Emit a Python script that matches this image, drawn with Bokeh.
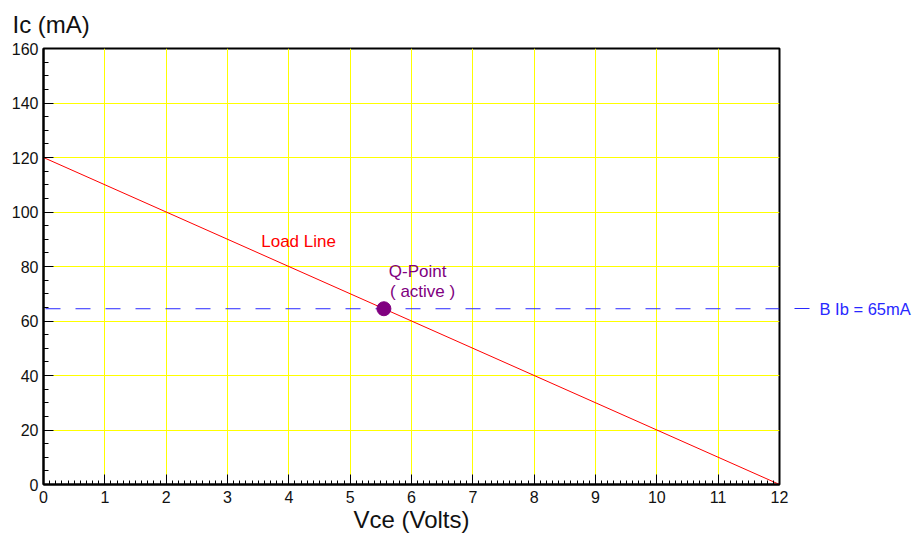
from bokeh.plotting import figure
from bokeh.models import Range1d, SingleIntervalTicker, FixedTicker, Label, LinearAxis
from bokeh.embed import file_html
from bokeh.resources import INLINE

# ---- data ----
load_vce = [0, 12]          # Volts
load_ic = [120, 0]          # mA
q_vce = [5.55]
q_ic = [64.5]
ib_vce = [0, 12]
ib_ic = [64.5, 64.5]        # mA (dashed "B Ib = 65mA" line)
ib_text = "B Ib = 65mA"
x_min, x_max = 0, 12
y_min, y_max = 0, 160

FONT = "Liberation Sans"
BLUE = "#2828ff"
PURPLE = "#800080"

p = figure(width=913, height=538, output_backend="svg", toolbar_location=None,
           x_range=Range1d(x_min, x_max), y_range=Range1d(y_min, y_max),
           min_border_left=43, min_border_top=48, min_border_right=133, min_border_bottom=54,
           title="Ic (mA)")
p.background_fill_color = "white"
p.border_fill_color = "white"
p.outline_line_color = "black"
p.outline_line_width = 2

p.title.text_font = FONT
p.title.text_font_size = "24px"
p.title.text_font_style = "normal"
p.title.text_color = "#111111"
p.title.align = "left"
p.title.offset = -31
p.title.standoff = 18
p.title.vertical_align = "top"

p.xaxis.ticker = SingleIntervalTicker(interval=1, num_minor_ticks=10)
p.yaxis.ticker = SingleIntervalTicker(interval=20, num_minor_ticks=4)
for ax in (p.xaxis, p.yaxis):
    ax.axis_line_width = 2
    ax.axis_line_color = "black"
    ax.major_tick_out = 0
    ax.major_tick_in = 10
    ax.minor_tick_out = 0
    ax.minor_tick_in = 5
    ax.major_tick_line_color = "black"
    ax.minor_tick_line_color = "black"
    ax.major_label_text_font = FONT
    ax.major_label_text_font_size = "16px"
    ax.major_label_text_color = "#111111"
p.xaxis.major_label_standoff = 6
p.yaxis.major_label_standoff = 5
p.xaxis.minor_tick_in = 4

p.xaxis.axis_label = "Vce (Volts)"
p.xaxis.axis_label_text_font = FONT
p.xaxis.axis_label_text_font_size = "24px"
p.xaxis.axis_label_text_font_style = "normal"
p.xaxis.axis_label_text_color = "#111111"
p.xaxis.axis_label_standoff = 0

p.xgrid.ticker = SingleIntervalTicker(interval=1)
p.ygrid.ticker = SingleIntervalTicker(interval=20)
p.xgrid.grid_line_color = "#ffff00"
p.ygrid.grid_line_color = "#ffff00"
p.xgrid.grid_line_width = 1
p.ygrid.grid_line_width = 1

# load line
p.line(load_vce, load_ic, line_color="red", line_width=1)

# dashed Ib line
p.line(ib_vce, ib_ic, line_color=BLUE, line_width=1, line_dash="15 15", line_dash_offset=28)

# Q-point
p.scatter(q_vce, q_ic, size=14, marker="circle", fill_color=PURPLE, line_color=PURPLE)

# labels
p.add_layout(Label(x=3.55, y=89.2, text="Load Line", text_color="red",
                   text_font=FONT, text_font_size="17px", text_baseline="alphabetic"))
p.add_layout(Label(x=5.63, y=78.2, text="Q-Point", text_color=PURPLE,
                   text_font=FONT, text_font_size="17px", text_baseline="alphabetic"))
p.add_layout(Label(x=5.65, y=71.0, text="( active )", text_color=PURPLE,
                   text_font=FONT, text_font_size="17px", text_baseline="alphabetic"))

# Ib label outside the frame: a right axis with one dashed tick at the Ib level
ib_axis = LinearAxis(ticker=FixedTicker(ticks=[ib_ic[0]], minor_ticks=[]),
                     major_label_overrides={ib_ic[0]: ib_text})
ib_axis.axis_line_color = None
ib_axis.major_tick_in = 0
ib_axis.major_tick_out = 30
ib_axis.major_tick_line_color = BLUE
ib_axis.major_tick_line_width = 1
ib_axis.major_tick_line_dash = "15 15"
ib_axis.major_tick_line_dash_offset = 0
ib_axis.minor_tick_line_color = None
ib_axis.major_label_standoff = 10
ib_axis.major_label_text_font = FONT
ib_axis.major_label_text_font_size = "16.5px"
ib_axis.major_label_text_color = BLUE
p.add_layout(ib_axis, "right")

open("out.html", "w").write(file_html(p, INLINE))
